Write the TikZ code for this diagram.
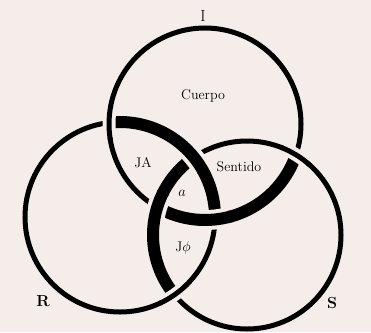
\documentclass[tikz,border=0pt]{standalone}
\definecolor{paper}{RGB}{244,237,234}
% short piece of an over-passing ring, with a gap cut round it
\newcommand{\overpass}[4]{% #1 centre, #2 radius, #3 angle, #4 width
  \draw[line width=#4pt+8pt, paper] (#1) ++({#3-9}:#2) arc[start angle=#3-9, end angle=#3+9, radius=#2];
  \draw[line width=#4pt] (#1) ++({#3-10}:#2) arc[start angle=#3-10, end angle=#3+10, radius=#2];
}
\begin{document}
\begin{tikzpicture}[x=1pt, y=-1pt,
    ring/.style={line width=5pt},
    band/.style={line width=12pt},
    lbl/.style={inner sep=0pt, font=\fontsize{14}{16}\selectfont}]
    % Paper and bounding box
    \fill[paper] (0,0) rectangle (371,332);
    \useasboundingbox (0,0) rectangle (371,332);

    % Centres and radii of the three rings
    \coordinate (cI) at (205,124);
    \coordinate (cR) at (120,217);
    \coordinate (cS) at (247,235);
    \def\rI{96}
    \def\rR{95}
    \def\rS{94}

    % Thin rings
    \draw[ring] (cI) circle[radius=\rI];
    \draw[ring] (cR) circle[radius=\rR];
    \draw[ring] (cS) circle[radius=\rS];

    % Thick bands: each ring inside the next one
    \draw[band] (cR) ++(-96.7:\rR) arc[start angle=-96.7, end angle=1.5, radius=\rR];
    \draw[band] (cI) ++(18.6:\rI) arc[start angle=18.6, end angle=119.9, radius=\rI];
    \draw[band] (cS) ++(140.5:\rS) arc[start angle=140.5, end angle=235.6, radius=\rS];

    % Crossings: I over R, R over S, S over I
    \overpass{cI}{\rI}{180.8}{5}
    \overpass{cI}{\rI}{84.1}{12}
    \overpass{cR}{\rR}{-38.9}{12}
    \overpass{cR}{\rR}{55}{5}
    \overpass{cS}{\rS}{197.1}{12}
    \overpass{cS}{\rS}{-58.6}{5}

    % Labels
    \node[lbl, font=\fontsize{16}{18}\selectfont] (lI) at (203,16) {I};
    \node[lbl] (cuerpo) at (203,96) {Cuerpo};
    \node[lbl] (ja) at (143,163) {JA};
    \node[lbl] (sentido) at (239,167) {Sentido};
    \node[lbl] (obja) at (182,193) {$a$};
    \node[lbl] (jphi) at (183,248) {J$\phi$};
    \node[lbl, font=\bfseries\fontsize{16}{18}\selectfont] (lR) at (43,301) {R};
    \node[lbl, font=\bfseries\fontsize{16}{18}\selectfont] (lS) at (332,303) {S};
\end{tikzpicture}
\end{document}
